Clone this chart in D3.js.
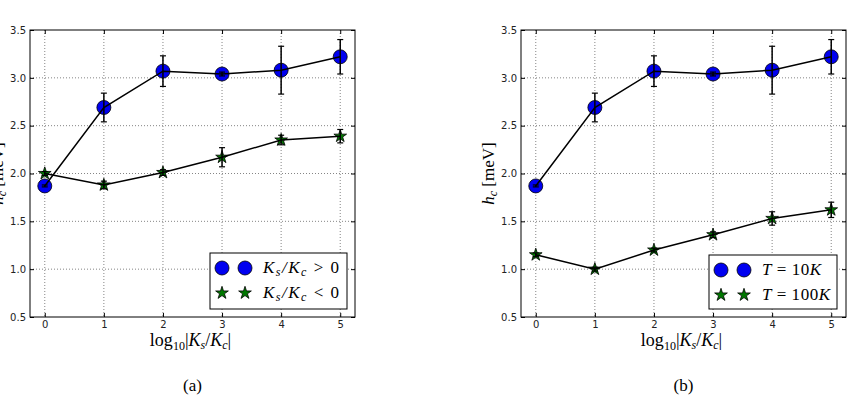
<!DOCTYPE html>
<html>
<head>
<meta charset="utf-8">
<script src="https://cdn.jsdelivr.net/npm/d3@7"></script>
<style>
  body { margin: 0; background: #fff; }
  svg { display: block; }
  .tick text { font-family: 'DejaVu Sans', sans-serif; font-size: 10px; fill: #222; }
  .math { font-family: 'Liberation Serif', 'DejaVu Serif', serif; }
</style>
</head>
<body>
<svg id="chart" width="866" height="400"></svg>
<script>
// data
const xs = [0, 1, 2, 3, 4, 5];
const xTicks = [0, 1, 2, 3, 4, 5];
const yTicks = [0.5, 1.0, 1.5, 2.0, 2.5, 3.0, 3.5];

// blue circles (same in both panels)
const blueVals = [1.87, 2.69, 3.07, 3.04, 3.08, 3.22];
const blueErr  = [0.01, 0.15, 0.16, 0.02, 0.25, 0.18];

// panel (a): green stars, Ks/Kc < 0
const greenValsA = [2.00, 1.88, 2.01, 2.17, 2.35, 2.39];
const greenErrA  = [0.02, 0.04, 0.03, 0.10, 0.05, 0.07];

// panel (b): green stars, T = 100K
const greenValsB = [1.15, 1.00, 1.20, 1.36, 1.53, 1.62];
const greenErrB  = [0.02, 0.02, 0.02, 0.03, 0.07, 0.08];

const svg = d3.select('#chart');

const panels = [
  {
    left: 30, caption: '(a)',
    green: greenValsA, greenErr: greenErrA,
    legend: { x: 210, y: 253, w: 137, h: 56 },
    labelWidths: [76, 76],
    labels: [
      [['K', 'i'], ['s', 'sub'], ['/', 'i'], ['K', 'i'], ['c', 'sub'], [' > 0', 'n']],
      [['K', 'i'], ['s', 'sub'], ['/', 'i'], ['K', 'i'], ['c', 'sub'], [' < 0', 'n']]
    ]
  },
  {
    left: 521, caption: '(b)',
    green: greenValsB, greenErr: greenErrB,
    legend: { x: 709, y: 255, w: 128, h: 54 },
    labelWidths: [59, 68],
    labels: [
      [['T', 'i'], [' = 10', 'n'], ['K', 'i']],
      [['T', 'i'], [' = 100', 'n'], ['K', 'i']]
    ]
  }
];

const W = 325, plotTop = 30, plotBottom = 317;
const blue = '#0000f0', green = '#007800';

function drawPanel(p) {
  const x = d3.scaleLinear().domain([-0.25, 5.25]).range([p.left, p.left + W]);
  const y = d3.scaleLinear().domain([0.5, 3.5]).range([plotBottom, plotTop]);
  const g = svg.append('g');

  // grid
  g.append('g').selectAll('line').data(xTicks).join('line')
    .attr('x1', d => x(d)).attr('x2', d => x(d))
    .attr('y1', plotTop).attr('y2', plotBottom)
    .attr('stroke', '#666').attr('stroke-width', 0.8).attr('stroke-dasharray', '1,2');
  g.append('g').selectAll('line').data(yTicks.slice(1, -1)).join('line')
    .attr('x1', p.left).attr('x2', p.left + W)
    .attr('y1', d => y(d)).attr('y2', d => y(d))
    .attr('stroke', '#666').attr('stroke-width', 0.8).attr('stroke-dasharray', '1,2');

  // axes with inward ticks
  g.append('g').attr('transform', `translate(0,${plotBottom})`)
    .call(d3.axisBottom(x).tickValues(xTicks).tickFormat(d3.format('d')).tickSizeInner(-4).tickSizeOuter(0).tickPadding(4));
  g.append('g').attr('transform', `translate(${p.left},0)`)
    .call(d3.axisLeft(y).tickValues(yTicks).tickFormat(d3.format('.1f')).tickSizeInner(-4).tickSizeOuter(0).tickPadding(4));
  g.append('g').attr('transform', `translate(0,${plotTop})`)
    .call(d3.axisTop(x).tickValues(xTicks).tickFormat('').tickSizeInner(-4).tickSizeOuter(0));
  g.append('g').attr('transform', `translate(${p.left + W},0)`)
    .call(d3.axisRight(y).tickValues(yTicks).tickFormat('').tickSizeInner(-4).tickSizeOuter(0));
  g.selectAll('.domain').remove();
  g.selectAll('.tick line').attr('stroke', '#000');
  g.append('rect').attr('x', p.left).attr('y', plotTop).attr('width', W).attr('height', plotBottom - plotTop)
    .attr('fill', 'none').attr('stroke', '#000').attr('stroke-width', 1);

  const star = d3.symbol().type(d3.symbolStar).size(50);

  function series(vals, errs, kind) {
    const pts = xs.map((d, i) => ({ x: d, v: vals[i], e: errs[i] }));
    const s = g.append('g');
    if (kind === 'circle') {
      s.selectAll('circle').data(pts).join('circle')
        .attr('cx', d => x(d.x)).attr('cy', d => y(d.v)).attr('r', 7)
        .attr('fill', blue).attr('stroke', '#000').attr('stroke-width', 0.8);
    } else {
      s.selectAll('path').data(pts).join('path')
        .attr('d', star).attr('transform', d => `translate(${x(d.x)},${y(d.v)})`)
        .attr('fill', green).attr('stroke', '#000').attr('stroke-width', 0.8);
    }
    s.append('path').datum(pts)
      .attr('d', d3.line().x(d => x(d.x)).y(d => y(d.v)))
      .attr('fill', 'none').attr('stroke', '#000').attr('stroke-width', 1.5);
    const eb = s.selectAll('g.eb').data(pts).join('g').attr('class', 'eb');
    eb.append('line').attr('x1', d => x(d.x)).attr('x2', d => x(d.x))
      .attr('y1', d => y(d.v - d.e)).attr('y2', d => y(d.v + d.e))
      .attr('stroke', '#000').attr('stroke-width', 1.5);
    [-1, 1].forEach(sg => {
      eb.append('line').attr('x1', d => x(d.x) - 3).attr('x2', d => x(d.x) + 3)
        .attr('y1', d => y(d.v + sg * d.e)).attr('y2', d => y(d.v + sg * d.e))
        .attr('stroke', '#000').attr('stroke-width', 1.2);
    });
  }

  series(blueVals, blueErr, 'circle');
  series(p.green, p.greenErr, 'star');

  // legend
  const L = p.legend;
  const lg = g.append('g');
  lg.append('rect').attr('x', L.x).attr('y', L.y).attr('width', L.w).attr('height', L.h)
    .attr('fill', '#fff').attr('stroke', '#000').attr('stroke-width', 1);
  [0, 1].forEach(i => {
    const cy = L.y + 15 + i * 25;
    [12, 35].forEach(dx => {
      if (i === 0) {
        lg.append('circle').attr('cx', L.x + dx).attr('cy', cy).attr('r', 7)
          .attr('fill', blue).attr('stroke', '#000').attr('stroke-width', 0.8);
      } else {
        lg.append('path').attr('d', star).attr('transform', `translate(${L.x + dx},${cy})`)
          .attr('fill', green).attr('stroke', '#000').attr('stroke-width', 0.8);
      }
    });
    const t = lg.append('text').attr('class', 'math').attr('x', L.x + 53).attr('y', cy + 5)
      .attr('font-size', 17).attr('textLength', p.labelWidths[i]).attr('lengthAdjust', 'spacing');
    let prev = null;
    p.labels[i].forEach(([str, st]) => {
      const ts = t.append('tspan').text(str);
      if (st === 'i') ts.attr('font-style', 'italic');
      if (st === 'sub') ts.attr('font-style', 'italic').attr('font-size', 12);
      let dy = 0;
      if (st === 'sub' && prev !== 'sub') dy = 3;
      if (st !== 'sub' && prev === 'sub') dy = -3;
      ts.attr('dy', dy);
      prev = st;
    });
  });

  // axis labels
  const cx = p.left + W / 2;
  const xl = g.append('text').attr('class', 'math').attr('x', cx - 2).attr('y', 346)
    .attr('text-anchor', 'middle').attr('font-size', 18);
  xl.append('tspan').text('log');
  xl.append('tspan').text('10').attr('font-size', 12).attr('dy', 4);
  xl.append('tspan').text('|').attr('dy', -4);
  xl.append('tspan').text('K').attr('font-style', 'italic');
  xl.append('tspan').text('s').attr('font-style', 'italic').attr('font-size', 12).attr('dy', 3);
  xl.append('tspan').text('/').attr('dy', -3);
  xl.append('tspan').text('K').attr('font-style', 'italic');
  xl.append('tspan').text('c').attr('font-style', 'italic').attr('font-size', 12).attr('dy', 3);
  xl.append('tspan').text('|').attr('dy', -3);

  // y label sits just left of the tick labels; in panel (a) it runs off the page edge
  const yl = g.append('text').attr('class', 'math')
    .attr('transform', `translate(${p.left - 27},${(plotTop + plotBottom) / 2}) rotate(-90)`)
    .attr('text-anchor', 'middle').attr('font-size', 17);
  yl.append('tspan').text('h').attr('font-style', 'italic');
  yl.append('tspan').text('c').attr('font-style', 'italic').attr('font-size', 12).attr('dy', 3);
  yl.append('tspan').text(' [meV]').attr('dy', -3);

  g.append('text').attr('class', 'math').attr('x', cx).attr('y', 391)
    .attr('text-anchor', 'middle').attr('font-size', 17).text(p.caption);
}

panels.forEach(drawPanel);
</script>
</body>
</html>
